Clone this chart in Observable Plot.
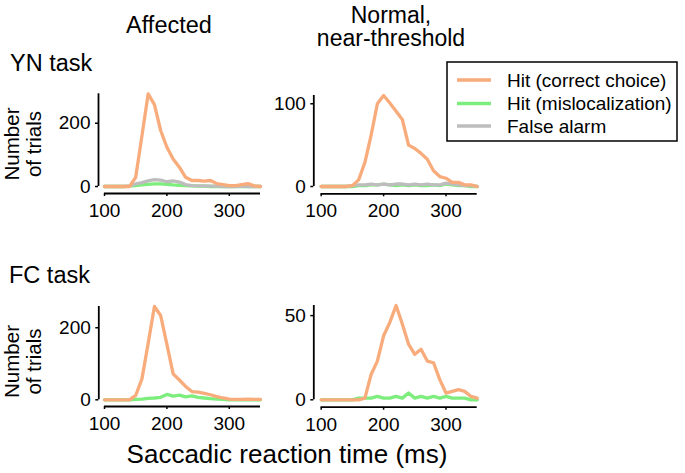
<!DOCTYPE html>
<html><head><meta charset="utf-8">
<script src="https://cdn.jsdelivr.net/npm/d3@7"></script>
<script src="https://cdn.jsdelivr.net/npm/@observablehq/plot@0.6"></script>
<style>
html,body{margin:0;padding:0;background:#fff;}
#fig{position:relative;width:685px;height:473px;overflow:hidden;font-family:"Liberation Sans",Arial,Helvetica,sans-serif;}
#fig svg{position:absolute;overflow:visible;}
</style></head><body><div id="fig"></div>
<script>
// ---- data (saccadic reaction time bins, ms) ----
const rtBins = [100,110,120,130,140,150,160,170,180,190,200,210,220,230,240,250,260,270,280,290,300,310,320,330,340,350];
const xTicks = [100,200,300];
const seriesNames = ["Hit (correct choice)","Hit (mislocalization)","False alarm"];
const seriesColors = ["#f8ab7b","#7ded7d","#bdbdbd"];

// YN task, affected
const ynAffectedHit   = [0,0,0,0,0,29,160,293,259,177,124,87,61,29,19,19,17,19,9,6,3,3,6,9,2,0];
const ynAffectedMis   = [0,0,0,0,1,3,5,7,8,8,7,5,4,3,2,1,1,0,0,0,0,0,0,0,0,0];
const ynAffectedFA    = [0,0,0,0,2,8,12,18,22,20,15,18,14,6,3,2,2,1,1,0,0,0,1,0,0,0];
// YN task, normal near-threshold
const ynNormalHit     = [0,0,0,0,0,1,8,29,62,100,110,101,91,81,50,46,40,33,19,12,10,5,5,2,2,0];
const ynNormalMis     = [0,0,0,0,0,0,1,1,2,2,3,2,1,2,1,2,1,1,2,1,3,2,1,1,0,0];
const ynNormalFA      = [0,0,0,0,0,1,2,2,3,2,3,2,3,3,2,3,2,3,2,2,4,3,2,1,1,0];
// FC task, affected
const fcAffectedHit   = [0,0,0,0,0,12,58,157,259,234,154,72,55,37,23,21,18,14,9,5,2,1,1,2,1,1];
const fcAffectedMis   = [0,0,0,0,0,1,2,4,5,7,15,10,13,8,11,7,5,3,2,1,0,0,0,0,0,0];
// FC task, normal near-threshold
const fcNormalHit     = [0,0,0,0,0,0,0,1,15,23,38,46,56,45,33,27,30,23,22,12,4,5,6,5,2,1];
const fcNormalMis     = [0,0,0,0,0,0,1,1,1,2,1,1,2,1,4,1,2,1,2,1,2,1,1,1,0,0];

const yTicksYNAffected = [0,200];
const yTicksYNNormal   = [0,100];
const yTicksFCAffected = [0,200];
const yTicksFCNormal   = [0,50];

const colTitles = ["Affected", ["Normal,","near-threshold"]];
const rowTitles = ["YN task","FC task"];
const yLabelLines = ["Number","of trials"];
const xLabel = "Saccadic reaction time (ms)";

const FONT = '"Liberation Sans", Arial, Helvetica, sans-serif';
const fig = document.getElementById("fig");

function panel(series, yTicks, box) {
  const ymax = d3.max(series, s => d3.max(s.values));
  const table = series.flatMap(s => rtBins.map((t, i) => ({t, n: s.values[i], name: s.name})));
  const W = 230, H = 160;
  const insL = box.xStart - box.frameLeft;
  const insB = box.xAxis - box.y0;
  const x0 = rtBins[0], x1 = rtBins[rtBins.length - 1];
  const svg = Plot.plot({
    width: W, height: H,
    marginLeft: box.frameLeft - box.left,
    marginRight: box.left + W - box.xEnd,
    marginTop: box.yTop - box.top,
    marginBottom: box.top + H - box.xAxis,
    insetLeft: insL, insetBottom: insB,
    x: {domain: [x0, x1]},
    y: {domain: [0, ymax]},
    color: {domain: seriesNames, range: seriesColors},
    style: {background: "transparent", color: "#000", fontFamily: FONT, fontSize: "19px", overflow: "visible"},
    marks: [
      Plot.ruleY([0], {x1: x0, x2: x1, dy: insB, stroke: "#000", strokeWidth: 1.8}),
      Plot.ruleX([x0], {y1: 0, y2: ymax, dx: -insL, stroke: "#000", strokeWidth: 1.8}),
      Plot.axisX({ticks: xTicks, tickSize: 3, tickPadding: 7, label: null, fontSize: 19, strokeWidth: 1.5}),
      Plot.axisY({ticks: yTicks, tickSize: 3, tickPadding: 5, label: null, fontSize: 19, strokeWidth: 1.5}),
      Plot.line(table, {x: "t", y: "n", z: "name", stroke: "name", strokeWidth: 3.3})
    ]
  });
  svg.style.position = "absolute";
  svg.style.left = box.left + "px";
  svg.style.top = box.top + "px";
  fig.appendChild(svg);
}

const S = (name, values) => ({name, values});

panel([S(seriesNames[1], ynAffectedMis), S(seriesNames[2], ynAffectedFA), S(seriesNames[0], ynAffectedHit)], yTicksYNAffected,
  {left: 40, top: 70, frameLeft: 98, xStart: 104, xEnd: 260, yTop: 93.3, y0: 186, xAxis: 193});
panel([S(seriesNames[1], ynNormalMis), S(seriesNames[2], ynNormalFA), S(seriesNames[0], ynNormalHit)], yTicksYNNormal,
  {left: 255, top: 70, frameLeft: 313.3, xStart: 320.7, xEnd: 476.7, yTop: 95, y0: 186, xAxis: 193.3});
panel([S(seriesNames[1], fcAffectedMis), S(seriesNames[0], fcAffectedHit)], yTicksFCAffected,
  {left: 40, top: 285, frameLeft: 98.3, xStart: 104, xEnd: 260, yTop: 306, y0: 399.3, xAxis: 406});
panel([S(seriesNames[1], fcNormalMis), S(seriesNames[0], fcNormalHit)], yTicksFCNormal,
  {left: 255, top: 285, frameLeft: 313.3, xStart: 320.7, xEnd: 476.7, yTop: 305, y0: 399.3, xAxis: 406.7});

// ---- overlay: titles, labels, legend ----
const ov = d3.create("svg").attr("width", 685).attr("height", 473)
  .style("left", "0px").style("top", "0px").style("pointer-events", "none")
  .attr("font-family", FONT).attr("fill", "#000");

ov.append("text").attr("x", 169).attr("y", 33).attr("text-anchor", "middle").attr("font-size", 23.5).text(colTitles[0]);
const t2 = ov.append("text").attr("x", 391).attr("y", 22.5).attr("text-anchor", "middle").attr("font-size", 23);
t2.append("tspan").attr("x", 391).text(colTitles[1][0]);
t2.append("tspan").attr("x", 391).attr("dy", 23.5).text(colTitles[1][1]);
ov.append("text").attr("x", 10).attr("y", 71).attr("font-size", 23.5).text(rowTitles[0]);
ov.append("text").attr("x", 9).attr("y", 283).attr("font-size", 23.5).text(rowTitles[1]);

for (const cy of [144, 361.5]) {
  const t = ov.append("text").attr("transform", `translate(18.8,${cy}) rotate(-90)`)
    .attr("text-anchor", "middle").attr("font-size", 20.5);
  t.append("tspan").attr("x", 0).text(yLabelLines[0]);
  t.append("tspan").attr("x", 0).attr("dy", 22.2).text(yLabelLines[1]);
}

ov.append("text").attr("x", 287).attr("y", 463).attr("text-anchor", "middle").attr("font-size", 26).text(xLabel);

// legend
ov.append("rect").attr("x", 447).attr("y", 62).attr("width", 230).attr("height", 79)
  .attr("fill", "#fff").attr("stroke", "#000").attr("stroke-width", 1.5);
const rowsY = [80, 103.5, 126];
seriesNames.forEach((name, i) => {
  ov.append("line").attr("x1", 457).attr("x2", 491).attr("y1", rowsY[i]).attr("y2", rowsY[i])
    .attr("stroke", seriesColors[i]).attr("stroke-width", 3.5);
  ov.append("text").attr("x", 507).attr("y", rowsY[i] + 6.5).attr("font-size", 19).text(name);
});

fig.appendChild(ov.node());
</script>
</body></html>
